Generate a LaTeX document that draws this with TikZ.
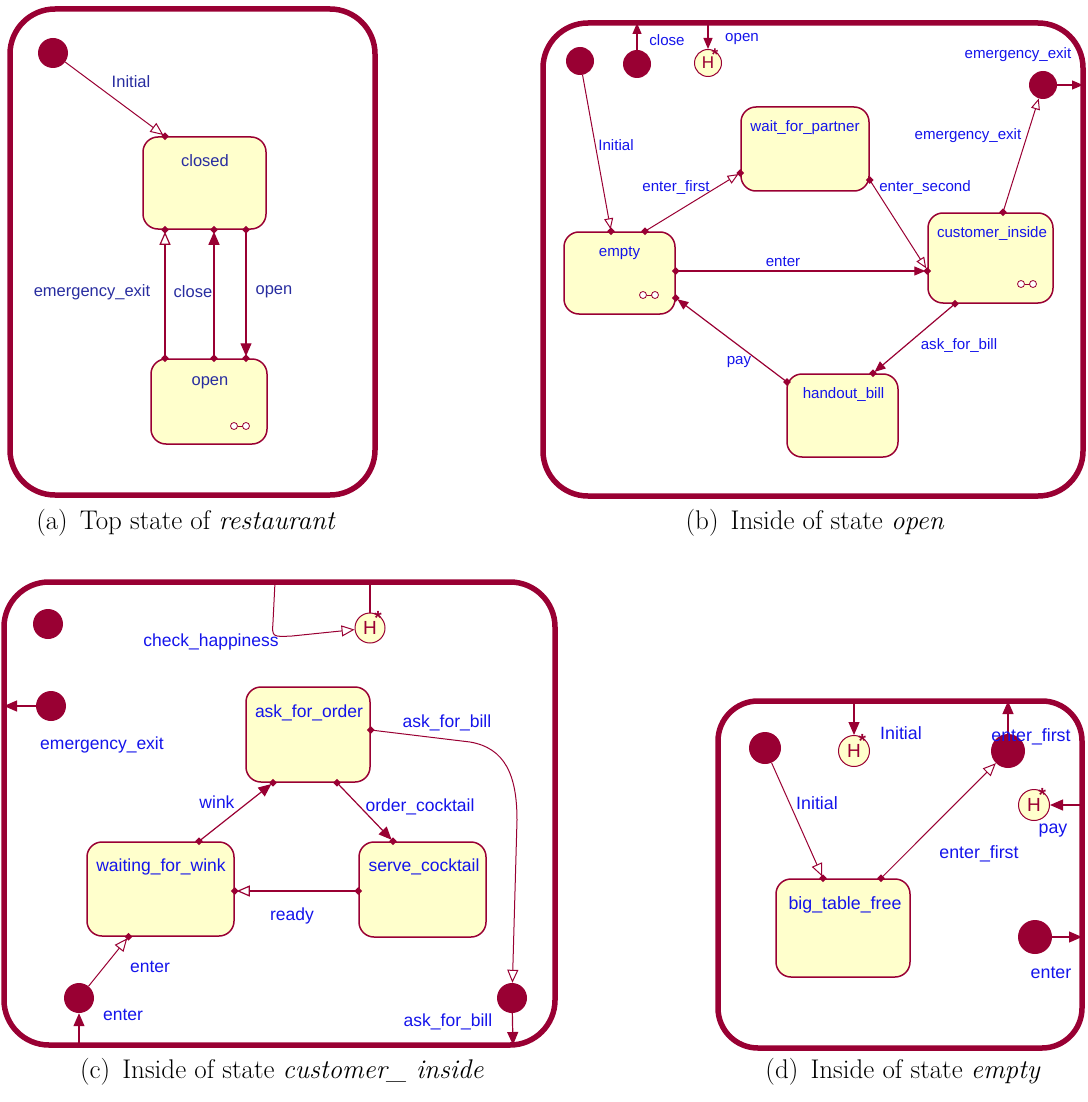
\documentclass[tikz,border=0pt]{standalone}
\usepackage{fontspec}
\newfontfamily\labfont{Liberation Sans}
\usetikzlibrary{arrows.meta}
\definecolor{maroon}{RGB}{153,0,51}
\definecolor{stfill}{RGB}{255,255,204}
\definecolor{lblue}{RGB}{20,20,235}
\definecolor{nblue}{RGB}{40,45,160}
\tikzset{
  frame/.style={draw=maroon, line width=5.5pt, rounded corners=45pt},
  state/.style={draw=maroon, fill=stfill, line width=1.5pt, rounded corners=15pt, inner sep=0pt},
  pseudo/.style={circle, fill=maroon, inner sep=0pt},
  hist/.style={circle, draw=maroon, fill=stfill, line width=1pt, inner sep=0pt, text=maroon,
    font=\labfont\fontsize{19}{20}\selectfont},
  star/.style={text=maroon, inner sep=0pt, font=\labfont\bfseries\fontsize{19}{19}\selectfont},
  tr/.style={draw=maroon, line width=1.2pt},
  opn/.style={-{Triangle[length=13pt,width=11pt,fill=white]}},
  fil/.style={-{Triangle[length=13pt,width=11pt]}},
  bopn/.style={-{Triangle[length=11pt,width=9pt,fill=white]}},
  bfil/.style={-{Triangle[length=11pt,width=9pt]}},
  la/.style={text=nblue, inner sep=0pt, font=\labfont\fontsize{16.5}{18}\selectfont},
  lb/.style={text=lblue, inner sep=0pt, font=\labfont\fontsize{15.1}{16}\selectfont},
  lc/.style={text=lblue, inner sep=0pt, font=\labfont\fontsize{17.5}{19}\selectfont},
  ld/.style={text=lblue, inner sep=0pt, font=\labfont\fontsize{17.8}{19}\selectfont},
  captext/.style={inner sep=0pt, font=\fontsize{27}{32}\selectfont},
  dm/.pic={\fill[maroon] (0,-3.8) -- (3.8,0) -- (0,3.8) -- (-3.8,0) -- cycle;},
  icon/.pic={\draw[maroon, line width=0.8pt] (-2.5,0) -- (2.5,0);
             \draw[maroon, line width=0.8pt, fill=white] (-6,0) circle (3.5pt) (6,0) circle (3.5pt);}
}
\begin{document}
\begin{tikzpicture}[x=1pt, y=-1pt]
\useasboundingbox (0,0) rectangle (1087,1102);

% ---------------- (a) top state of restaurant ----------------
\draw[frame] (10,9) rectangle (375,495);
\node[pseudo, minimum size=30pt] (aIni) at (53,53) {};
\node[state, minimum width=123pt, minimum height=92pt] (closed) at (204.5,183) {};
\node[state, minimum width=116pt, minimum height=85pt] (open) at (209,401.5) {};
\node[la] (closedT) at (205,161) {closed};
\node[la] (openT) at (210,383) {open};
\pic at (240,426) {icon};
\draw[tr, line width=1pt, opn, shorten >=2pt] (aIni) -- (closed.north -| 165,0);
\draw[tr, opn, shorten >=2pt] (open.north -| 165,0) -- (closed.south -| 165,0);
\draw[tr, fil, shorten >=2pt] (open.north -| 214,0) -- (closed.south -| 214,0);
\draw[tr, fil, shorten >=2pt] (closed.south -| 246,0) -- (open.north -| 246,0);
\foreach \p in {165,214,246} {
  \pic at (closed.south -| \p,0) {dm};
  \pic at (open.north -| \p,0) {dm};
}
\pic at (closed.north -| 165,0) {dm};
\node[la] (aL1) at (131,82) {Initial};
\node[la] (aL2) at (92,292) {emergency\_exit};
\node[la] (aL3) at (193,292) {close};
\node[la] (aL4) at (274,292) {open};

% ---------------- (b) inside of state open ----------------
\draw[frame] (543,23) rectangle (1083,496);
\coordinate (bTopClose) at (637,23);
\coordinate (bTopOpen) at (708,23);
\coordinate (bRightEm) at (1083,85);
\node[pseudo, minimum size=28pt] (bIni) at (580,61) {};
\node[pseudo, minimum size=28pt] (bClose) at (637,64) {};
\node[hist, minimum size=27pt, font=\labfont\fontsize{17}{18}\selectfont] (bHist) at (708,63) {H};
\node[star, font=\labfont\bfseries\fontsize{17}{17}\selectfont] (bStar) at ([shift={(-2,2)}]bHist.50) {*};
\node[pseudo, minimum size=28pt] (bEm) at (1043,85) {};
\node[state, minimum width=128pt, minimum height=84pt] (wait) at (805,149) {};
\node[state, minimum width=111pt, minimum height=82pt] (empty) at (619.5,273) {};
\node[state, minimum width=125pt, minimum height=90pt] (cust) at (990.5,258) {};
\node[state, minimum width=111pt, minimum height=83pt] (handout) at (842.5,415.5) {};
\node[lb] (waitT) at (805,128) {wait\_for\_partner};
\node[lb] (emptyT) at (619.5,253) {empty};
\node[lb] (custT) at (992,234) {customer\_inside};
\node[lb] (handT) at (843.5,395) {handout\_bill};
\pic at (649,295) {icon};
\pic at (1027,284) {icon};
\draw[tr, bfil] (bClose) -- (bTopClose);
\draw[tr, bfil] (bTopOpen) -- (bHist);
\draw[tr, bfil] (bEm) -- (bRightEm);
\draw[tr, line width=1pt, bopn, shorten >=2pt] (bIni) -- (empty.north -| 611,0);
\draw[tr, line width=1pt, bopn, shorten >=2pt] (empty.north -| 645,0) -- (wait.west |- 0,173);
\draw[tr, line width=1pt, bopn, shorten >=2pt] (wait.east |- 0,180) -- (cust.west |- 0,270);
\draw[tr, bfil, shorten >=2pt] (empty.east |- 0,271) -- (cust.west |- 0,271);
\draw[tr, line width=1pt, bopn] (cust.north -| 1003,0) -- (bEm);
\draw[tr, bfil, shorten >=2pt] (cust.south -| 955,0) -- (handout.north -| 873,0);
\draw[tr, bfil, shorten >=2pt] (787,382) -- (empty.east |- 0,298);
\pic at (empty.north -| 611,0) {dm};
\pic at (empty.north -| 645,0) {dm};
\pic at (wait.west |- 0,173) {dm};
\pic at (wait.east |- 0,180) {dm};
\pic at (cust.west |- 0,271) {dm};
\pic at (empty.east |- 0,271) {dm};
\pic at (cust.north -| 1003,0) {dm};
\pic at (cust.south -| 955,0) {dm};
\pic at (handout.north -| 873,0) {dm};
\pic at (787,382) {dm};
\pic at (empty.east |- 0,298) {dm};
\node[lb] (bL1) at (667,40) {close};
\node[lb] (bL2) at (742,39) {open};
\node[lb] (bL3) at (1018,55) {emergency\_exit};
\node[lb] (bL4) at (616,145) {Initial};
\node[lb] (bL5) at (676,188) {enter\_first};
\node[lb] (bL6) at (925,188) {enter\_second};
\node[lb] (bL7) at (968,136) {emergency\_exit};
\node[lb] (bL8) at (783,262) {enter};
\node[lb] (bL9) at (959,346) {ask\_for\_bill};
\node[lb] (bL10) at (739,362) {pay};

% ---------------- (c) inside of state customer_inside ----------------
\draw[frame] (4,582) rectangle (555,1045);
\coordinate (cTopCh) at (275,582);
\coordinate (cTopH) at (370,582);
\coordinate (cLeftEm) at (4,706);
\coordinate (cBotEn) at (79,1045);
\coordinate (cBotAb) at (513,1045);
\node[pseudo, minimum size=30pt] (cIni) at (48,624) {};
\node[pseudo, minimum size=30pt] (cEm) at (51,706) {};
\node[hist, minimum size=30pt] (cHist) at (370,628) {H};
\node[star] (cStar) at ([shift={(-2,2)}]cHist.50) {*};
\node[state, minimum width=124pt, minimum height=95pt] (askorder) at (308,734.5) {};
\node[state, minimum width=127pt, minimum height=95pt] (serve) at (422.5,889.5) {};
\node[state, minimum width=147pt, minimum height=94pt] (waiting) at (160.5,889) {};
\node[pseudo, minimum size=30pt] (cEn) at (79,998) {};
\node[pseudo, minimum size=30pt] (cAb) at (512,998) {};
\node[lc] (askT) at (309,713) {ask\_for\_order};
\node[lc] (serveT) at (424,867) {serve\_cocktail};
\node[lc] (waitingT) at (161,867) {waiting\_for\_wink};
\draw[tr, fil] (cEm) -- (cLeftEm);
\draw[tr] (cTopH) -- (cHist);
\draw[tr, line width=1pt, opn] (cTopCh) -- (273,622) .. controls (272,637) .. (292,636) -- (cHist);
\draw[tr, line width=1pt, opn] (askorder.east |- 0,730) -- (470,742)
   .. controls (505,748) and (517,775) .. (517,820) -- (cAb);
\draw[tr, fil] (cAb) -- (cBotAb);
\draw[tr, fil, shorten >=2pt] (askorder.south -| 337,0) -- (serve.north -| 393,0);
\draw[tr, fil, shorten >=2pt] (waiting.north -| 199,0) -- (askorder.south -| 273,0);
\draw[tr, opn, shorten >=2pt] (serve.west |- 0,891) -- (waiting.east |- 0,891);
\draw[tr, line width=1pt, opn, shorten >=2pt] (cEn) -- (waiting.south -| 128.5,0);
\draw[tr, fil] (cBotEn) -- (cEn);
\pic at (askorder.east |- 0,730) {dm};
\pic at (askorder.south -| 337,0) {dm};
\pic at (serve.north -| 393,0) {dm};
\pic at (waiting.north -| 199,0) {dm};
\pic at (askorder.south -| 273,0) {dm};
\pic at (serve.west |- 0,891) {dm};
\pic at (waiting.east |- 0,891) {dm};
\pic at (waiting.south -| 128.5,0) {dm};
\node[lc] (cL1) at (211,642) {check\_happiness};
\node[lc] (cL2) at (102,745) {emergency\_exit};
\node[lc] (cL3) at (447,723) {ask\_for\_bill};
\node[lc] (cL4) at (420,807) {order\_cocktail};
\node[lc] (cL5) at (217,802) {wink};
\node[lc] (cL6) at (292,916) {ready};
\node[lc] (cL7) at (150,967) {enter};
\node[lc] (cL8) at (123,1015) {enter};
\node[lc] (cL9) at (448,1022) {ask\_for\_bill};

% ---------------- (d) inside of state empty ----------------
\draw[frame, rounded corners=40pt] (718,701) rectangle (1082,1048);
\coordinate (dTopH) at (854,701);
\coordinate (dTopEf) at (1008,701);
\coordinate (dRightPay) at (1082,805);
\coordinate (dRightEn) at (1082,937);
\node[pseudo, minimum size=32pt] (dIni) at (765,748) {};
\node[hist, minimum size=31pt] (dHist1) at (854,751) {H};
\node[star] (dStar1) at ([shift={(-2,2)}]dHist1.50) {*};
\node[pseudo, minimum size=34pt] (dEf) at (1008,751) {};
\node[hist, minimum size=31pt] (dHist2) at (1034,805) {H};
\node[star] (dStar2) at ([shift={(-2,2)}]dHist2.50) {*};
\node[pseudo, minimum size=34pt] (dEn) at (1035,937) {};
\node[state, minimum width=134pt, minimum height=98pt] (big) at (843,928) {};
\node[ld] (bigT) at (845,905) {big\_table\_free};
\draw[tr, fil] (dTopH) -- (dHist1);
\draw[tr, fil] (dEf) -- (dTopEf);
\draw[tr, fil] (dRightPay) -- (dHist2);
\draw[tr, fil] (dEn) -- (dRightEn);
\draw[tr, line width=1pt, opn, shorten >=2pt] (dIni) -- (big.north -| 823,0);
\draw[tr, line width=1pt, opn] (big.north -| 881,0) -- (dEf);
\pic at (big.north -| 823,0) {dm};
\pic at (big.north -| 881,0) {dm};
\node[ld] (dL1) at (901,733) {Initial};
\node[ld] (dL2) at (1031,737) {enter\_first};
\node[ld] (dL3) at (1053,831) {pay};
\node[ld] (dL4) at (817,803) {Initial};
\node[ld] (dL5) at (979,854) {enter\_first};
\node[ld] (dL6) at (1051,973) {enter};

% ---------------- captions ----------------
\node[captext] (capA) at (186,523) {(a)\hskip0.45em Top state of \emph{restaurant}};
\node[captext] (capB) at (815,523) {(b)\hskip0.45em Inside of state \emph{open}};
\node[captext] (capC) at (282,1072) {(c)\hskip0.45em Inside of state \emph{customer\_ inside}};
\node[captext] (capD) at (903,1072) {(d)\hskip0.45em Inside of state \emph{empty}};
\end{tikzpicture}
\end{document}
